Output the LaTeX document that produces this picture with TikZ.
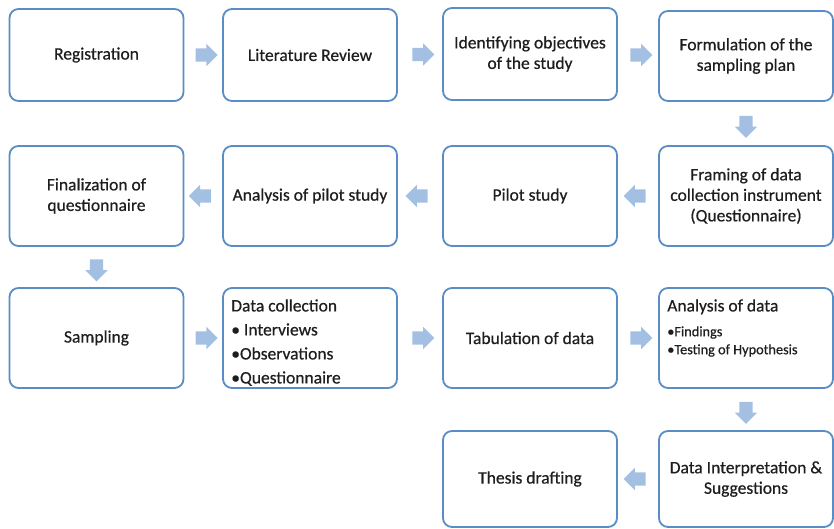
\documentclass[tikz,border=0pt]{standalone}
\usepackage{fontspec}
\setmainfont{Carlito}[FakeBold=0.5,AutoFakeBold=0.5]
\usetikzlibrary{shapes.arrows,calc}
\definecolor{bordblue}{HTML}{5A8CC6}
\definecolor{arrblue}{HTML}{A3C0E3}
\definecolor{txt}{HTML}{1E1E1E}
\begin{document}
\begin{tikzpicture}[x=1pt,y=-1pt,
  box/.style={draw=bordblue, line width=1.8pt, rounded corners=9pt, fill=white,
    minimum width=174pt, inner sep=0pt, align=center, text=txt,
    font=\fontsize{17.5}{20.5}\selectfont\bfseries},
  lefttext/.style={anchor=north west, inner sep=0pt, align=left, text=txt},
  barrow/.style={single arrow, fill=arrblue, draw=none, minimum height=22pt,
    inner sep=6.5pt, single arrow head extend=4.5pt,
    single arrow head indent=0pt},
  rdir/.style={barrow},
  ldir/.style={barrow, shape border rotate=180},
  ddir/.style={barrow, shape border rotate=270}]
\useasboundingbox (0,0) rectangle (834,529);
% row 1
\node[box, minimum height=92pt] (reg) at (96.5,55) {Registration};
\node[box, minimum height=92pt] (lit) at (310,55) {Literature Review};
\node[box, minimum height=92pt] (obj) at (530,54) {Identifying objectives\\of the study};
\node[box, minimum height=90pt] (plan) at (746,56) {Formulation of the\\sampling plan};
% row 2
\node[box, minimum height=100pt] (fin) at (96.5,196) {Finalization of\\questionnaire};
\node[box, minimum height=100pt] (aps) at (310,196) {Analysis of pilot study};
\node[box, minimum height=100pt] (pil) at (530,196) {Pilot study};
\node[box, minimum height=100pt] (fram) at (746,196) {Framing of data\\collection instrument\\(Questionnaire)};
% row 3
\node[box, minimum height=100pt] (samp) at (96.5,338) {Sampling};
\node[box, minimum height=100pt] (dc) at (310,338) {};
\node[lefttext, font=\fontsize{17.5}{24}\selectfont\bfseries] (dct) at ($(dc.north west)+(9,12)$)
  {Data collection\\• Interviews\\•Observations\\•Questionnaire};
\node[box, minimum height=100pt] (tab) at (530,338) {Tabulation of data};
\node[box, minimum height=100pt] (ad) at (746,338) {};
\node[lefttext, font=\fontsize{17.5}{20.5}\selectfont\bfseries] (adt) at ($(ad.north west)+(9,12)$) {Analysis of data};
\node[lefttext, font=\fontsize{14.3}{18}\selectfont\bfseries] (adb) at ($(ad.north west)+(9,39)$)
  {•Findings\\•Testing of Hypothesis};
% row 4
\node[box, minimum height=96pt] (thes) at (530,479) {Thesis drafting};
\node[box, minimum height=96pt] (interp) at (746,479) {Data Interpretation \&\\Suggestions};
% arrows
\node[rdir] at ($(reg.east)!0.5!(lit.west)$) {};
\node[rdir] at ($(lit.east)!0.5!(obj.west)$) {};
\node[rdir] at ($(obj.east)!0.5!(plan.west)$) {};
\node[ddir] at ($(plan.south)!0.5!(fram.north)$) {};
\node[ldir] at ($(fram.west)!0.5!(pil.east)$) {};
\node[ldir] at ($(pil.west)!0.5!(aps.east)$) {};
\node[ldir] at ($(aps.west)!0.5!(fin.east)$) {};
\node[ddir] at ($(fin.south)!0.5!(samp.north)$) {};
\node[rdir] at ($(samp.east)!0.5!(dc.west)$) {};
\node[rdir] at ($(dc.east)!0.5!(tab.west)$) {};
\node[rdir] at ($(tab.east)!0.5!(ad.west)$) {};
\node[ddir] at ($(ad.south)!0.5!(interp.north)$) {};
\node[ldir] at ($(interp.west)!0.5!(thes.east)$) {};
\end{tikzpicture}
\end{document}
